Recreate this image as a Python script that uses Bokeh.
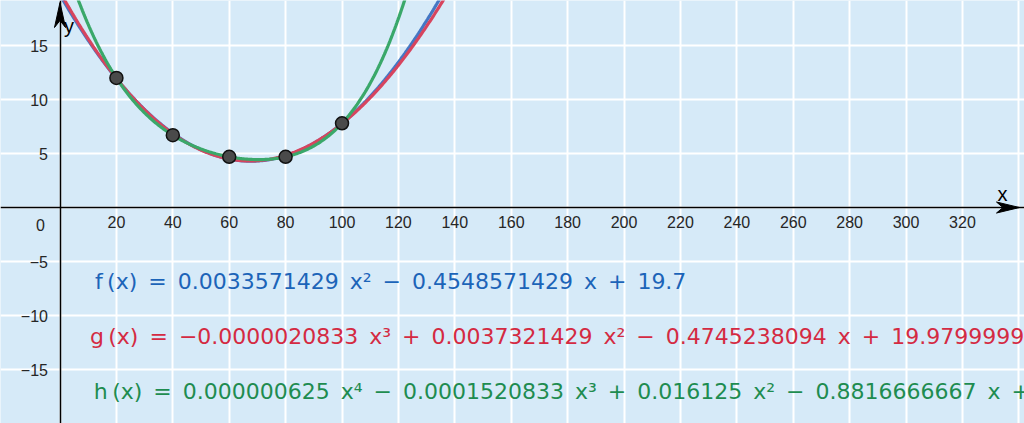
import numpy as np
from bokeh.plotting import figure
from bokeh.models import FixedTicker, Label, Range1d
from bokeh.embed import file_html
from bokeh.resources import INLINE
from bokeh.core.properties import value

# ---------------- data ----------------
pts_x = [20, 40, 60, 80, 100]
pts_y = [12.0, 6.7, 4.7, 4.7, 7.8]

f_coef = [0.0033571429, -0.4548571429, 19.7]
g_coef = [-0.0000020833, 0.0037321429, -0.4745238094, 19.98]
h_coef = [0.000000625, -0.0001520833, 0.016125, -0.8816666667, 24.3]

x_ticks = [20, 40, 60, 80, 100, 120, 140, 160, 180, 200, 220, 240, 260, 280, 300, 320]
y_ticks = [-15, -10, -5, 5, 10, 15]
x_grid = [0, 20, 40, 60, 80, 100, 120, 140, 160, 180, 200, 220, 240, 260, 280, 300, 320, 340]
y_grid = [-20, -15, -10, -5, 0, 5, 10, 15, 20]

S = "\u2002"   # en space (wide math spacing)
T = "\u2009"   # thin space
f_text = f"f{T}(x){S}={S}0.0033571429{S}x²{S}−{S}0.4548571429{S}x{S}+{S}19.7"
g_text = f"g{T}(x){S}={S}−0.0000020833{S}x³{S}+{S}0.0037321429{S}x²{S}−{S}0.4745238094{S}x{S}+{S}19.9799999"
h_text = f"h{T}(x){S}={S}0.000000625{S}x⁴{S}−{S}0.0001520833{S}x³{S}+{S}0.016125{S}x²{S}−{S}0.8816666667{S}x{S}+"

# ---------------- layout ----------------
W, H = 1024, 423
x0, x1 = -21.1, 342.0
y0, y1 = -20.0, 19.17
sx = W / (x1 - x0)   # px per x unit
sy = H / (y1 - y0)   # px per y unit

p = figure(width=W, height=H, output_backend="svg", toolbar_location=None,
           x_range=Range1d(x0, x1), y_range=Range1d(y0, y1), min_border=0)
p.background_fill_color = "#d6eaf8"
p.border_fill_color = "#d6eaf8"
p.outline_line_color = None

# grid
p.xgrid.ticker = FixedTicker(ticks=x_grid)
p.ygrid.ticker = FixedTicker(ticks=y_grid)
p.grid.grid_line_color = "white"
p.grid.grid_line_width = 2
p.grid.grid_line_alpha = 1.0

# axes crossing at origin
p.xaxis.fixed_location = 0
p.yaxis.fixed_location = 0
p.xaxis.ticker = FixedTicker(ticks=x_ticks)
p.yaxis.ticker = FixedTicker(ticks=y_ticks)
p.yaxis.major_label_overrides = {t: str(t).replace("-", "−") for t in y_ticks}
for ax in (p.xaxis, p.yaxis):
    ax.axis_line_color = "black"
    ax.axis_line_width = 1.5
    ax.major_tick_in = 0
    ax.major_tick_out = 0
    ax.minor_tick_in = 0
    ax.minor_tick_out = 0
    ax.major_label_text_font = "Liberation Sans"
    ax.major_label_text_font_size = "16px"
    ax.major_label_text_color = "#262626"
p.xaxis.major_label_standoff = 8
p.yaxis.major_label_standoff = 12

# curves
xs = np.linspace(x0, x1, 900)
curves = [(f_coef, "#4477c4"), (g_coef, "#d7445e"), (h_coef, "#3aa86a")]
for coef, col in curves:
    ys = np.polyval(coef, xs)
    ys = np.clip(ys, -100, 100)
    p.line(xs, ys, line_color=col, line_width=3.2)

# points
p.scatter(pts_x, pts_y, size=13, fill_color="#4a4a4a", line_color="#111111", line_width=1.5)

# axis arrowheads
L, hw = 23, 5.5
tip_x = x1 - 5 / sx
p.patch([tip_x, tip_x - L / sx, tip_x - 0.72 * L / sx, tip_x - L / sx],
        [0, hw / sy, 0, -hw / sy], fill_color="black", line_color="black")
tip_y = y1 - 2 / sy
Ly = 25
p.patch([0, hw / sx, 0, -hw / sx],
        [tip_y, tip_y - Ly / sy, tip_y - 0.72 * Ly / sy, tip_y - Ly / sy],
        fill_color="black", line_color="black")

# axis names and origin label
p.add_layout(Label(x=x1, y=0, x_offset=-22, y_offset=14, text="x", text_align="center",
                   text_baseline="middle", text_font="Liberation Sans",
                   text_font_size="20px", text_color="black"))
p.add_layout(Label(x=0, y=y1, x_offset=9, y_offset=-25, text="y", text_align="center",
                   text_baseline="middle", text_font="Liberation Sans",
                   text_font_size="20px", text_color="black"))
p.add_layout(Label(x=0, y=0, x_offset=-19.5, y_offset=-17, text="0", text_align="center",
                   text_baseline="middle", text_font="Liberation Sans",
                   text_font_size="16px", text_color="#262626"))

# formulas
texts = [f_text, g_text, h_text]
tcols = ["#1c64b8", "#d42a42", "#1e8c50"]
tx = [12.4, 10.6, 12.0]
ty = [-6.85, -11.95, -17.05]
for t, c, xx, yy in zip(texts, tcols, tx, ty):
    p.text(x=[xx], y=[yy], text=[t], text_color=c, text_font=value("DejaVu Sans"),
           text_font_size="22px", text_baseline="alphabetic", text_align="left")

open("out.html", "w").write(file_html(p, INLINE))
